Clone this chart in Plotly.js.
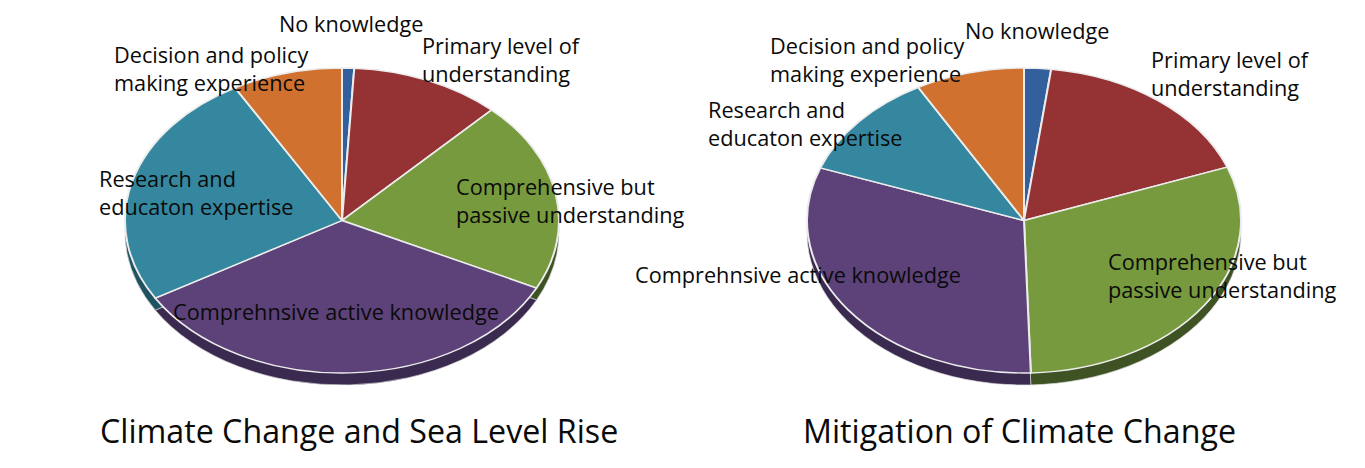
<!DOCTYPE html>
<html><head><meta charset="utf-8">
<script src="https://cdn.plot.ly/plotly-3.0.1.min.js"></script>
<style>html,body{margin:0;padding:0;background:#fff}#chart{width:1365px;height:468px}</style>
</head><body><div id="chart"></div>
<script>
var categories = ["No knowledge","Primary level of understanding","Comprehensive but passive understanding","Comprehnsive active knowledge","Research and educaton expertise","Decision and policy making experience"];
var seaLevelValues = [0.9,11.2,20.2,34.2,25.3,8.2];
var mitigationValues = [2.0,17.3,30.2,31.1,11.3,8.1];
var topColors = ["#33609c","#943234","#769a3d","#5c4279","#35879f","#d07130"];
var rimColors = ["#1f3a5e","#5a1e20","#3f5224","#3a2a50","#1f5261","#7e441c"];
var chartTitles = ["Climate Change and Sea Level Rise","Mitigation of Climate Change"];

var W=1365,H=468,R=217,CY=220.5,K=152.5/217,DEPTH=12,CX=[342,1024];
function dom(cx){return {x:[(cx-R)/W,(cx+R)/W],y:[1-(CY+R)/H,1-(CY-R)/H]};}
function pie(vals,colors,cx,lineColor,lineWidth){
  return {type:"pie",values:vals,labels:categories,sort:false,direction:"clockwise",rotation:0,
    textinfo:"none",hoverinfo:"label+percent",showlegend:false,domain:dom(cx),
    marker:{colors:colors,line:{color:lineColor,width:lineWidth}}};
}
var data=[
  pie(seaLevelValues,rimColors,CX[0],"#d8d8d8",0.8),
  pie(seaLevelValues,topColors,CX[0],"#ececec",2),
  pie(mitigationValues,rimColors,CX[1],"#d8d8d8",0.8),
  pie(mitigationValues,topColors,CX[1],"#ececec",2)
];
var FONT="'Open Sans', 'Noto Sans', sans-serif";
function note(text,x,y,size){
  return {text:text,xref:"paper",yref:"paper",x:x/W,y:1-y/H,xanchor:"left",yanchor:"middle",align:"left",showarrow:false,
    font:{family:FONT,size:size||21.7,color:"#0a0a0a"}};
}
var anns=[
  note("No knowledge",277,23),
  note("Decision and policy<br>making experience",112,68),
  note("Primary level of<br>understanding",420,60),
  note("Research and<br>educaton expertise",97,192),
  note("Comprehensive but<br>passive understanding",454,200),
  note("Comprehnsive active knowledge",171,311),
  note("No knowledge",963,31),
  note("Decision and policy<br>making experience",768,60),
  note("Primary level of<br>understanding",1149,73),
  note("Research and<br>educaton expertise",706,124),
  note("Comprehensive but<br>passive understanding",1106,275),
  note("Comprehnsive active knowledge",633,274),
  note(chartTitles[0],98,430,32.2),
  note(chartTitles[1],801,430,32.2)
];
var layout={width:W,height:H,margin:{l:0,r:0,t:0,b:0},paper_bgcolor:"#fff",plot_bgcolor:"#fff",showlegend:false,annotations:anns};
Plotly.newPlot("chart",data,layout,{displayModeBar:false,staticPlot:true}).then(function(gd){
  // Flatten the circular pies into the reference's tilted ellipse, with a darker copy as the rim
  var traces=gd.querySelectorAll(".pielayer .trace");
  traces.forEach(function(t,i){
    var dy=(i%2===0)?DEPTH:0;
    t.setAttribute("transform","translate(0,"+(CY+dy)+") scale(1,"+K+") translate(0,"+(-CY)+")");
  });
});
</script></body></html>
